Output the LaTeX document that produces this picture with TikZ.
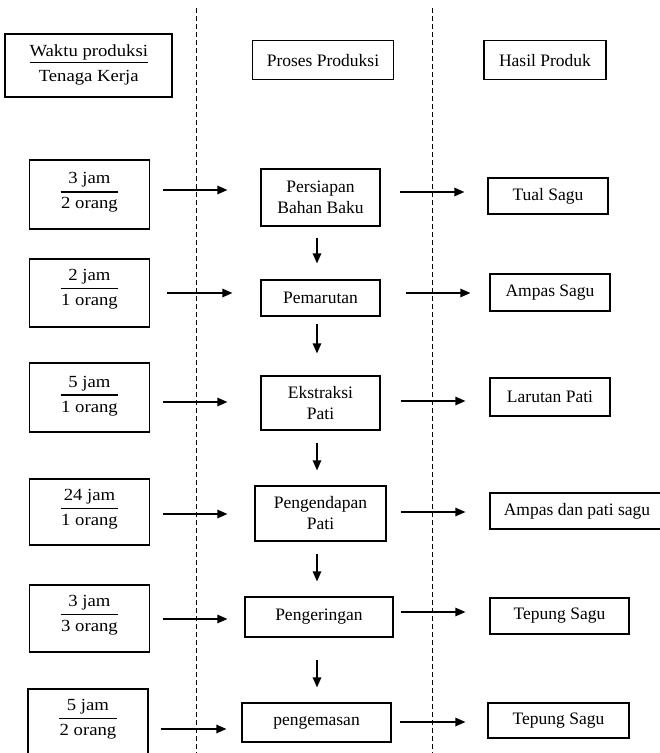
\documentclass[tikz,border=0pt]{standalone}
\usepackage{fontspec}
\setmainfont{Liberation Serif}
\newfontfamily\widefont[FakeStretch=1.1]{Liberation Serif}
\usetikzlibrary{arrows.meta}
\begin{document}
\begin{tikzpicture}[x=1pt,y=-1pt,
  box/.style={draw, line width=1.2pt, inner sep=0pt, align=center,
    font=\fontsize{17.5}{21}\selectfont},
  lbl/.style={inner sep=0pt, anchor=base, font=\widefont\fontsize{17}{20}\selectfont},
  arr/.style={line width=1.2pt, -{Triangle[length=10pt,width=8.5pt]}},
  sepline/.style={line width=0.9pt, dash pattern=on 5pt off 3pt},
  frac/.style={line width=1.1pt}]
\useasboundingbox (0,0) rectangle (660,753);
\fill[white] (0,0) rectangle (660,753);

% separators
\coordinate (s1a) at (196,8); \coordinate (s1b) at (196,753);
\coordinate (s2a) at (432,8); \coordinate (s2b) at (432,753);
\draw[sepline] (s1a) -- (s1b);
\draw[sepline] (s2a) -- (s2b);

% headers
\node[box, line width=1.4pt, minimum width=167pt, minimum height=63pt] (h1) at (88.5,65.5) {};
\node[lbl] (h1t) at (88.75,56.5) {Waktu produksi};
\node[lbl] (h1b) at (88.75,81) {Tenaga Kerja};
\draw[frac] (29.5,62.5) -- (148,62.5);
\node[box, minimum width=141pt, minimum height=39pt] (h2) at (323,60.3) {Proses Produksi};
\node[box, minimum width=122pt, minimum height=39pt] (h3) at (545,60.3) {Hasil Produk};

% left column
\node[box, minimum width=120pt, minimum height=69pt] (l1) at (89.5,194.5) {};
\node[lbl] (l1t) at (89.5,183.5) {3 jam};
\node[lbl] (l1b) at (89.5,208.5) {2 orang};
\draw[frac] (60.5,192) -- (118,192);

\node[box, minimum width=120pt, minimum height=68pt] (l2) at (89.5,293) {};
\node[lbl] (l2t) at (89.5,280.5) {2 jam};
\node[lbl] (l2b) at (89.5,305.5) {1 orang};
\draw[frac] (60.5,288.5) -- (118,288.5);

\node[box, minimum width=120pt, minimum height=69pt] (l3) at (89.5,397.5) {};
\node[lbl] (l3t) at (89.5,387) {5 jam};
\node[lbl] (l3b) at (89.5,412) {1 orang};
\draw[frac] (60.5,395) -- (118,395);

\node[box, minimum width=120pt, minimum height=66pt] (l4) at (89.5,512) {};
\node[lbl] (l4t) at (89.5,500.5) {24 jam};
\node[lbl] (l4b) at (89.5,525.5) {1 orang};
\draw[frac] (60.5,508.5) -- (118,508.5);

\node[box, minimum width=120pt, minimum height=67pt] (l5) at (89.5,618.5) {};
\node[lbl] (l5t) at (89.5,606.5) {3 jam};
\node[lbl] (l5b) at (89.5,631.5) {3 orang};
\draw[frac] (60.5,614.5) -- (118,614.5);

\node[box, minimum width=120pt, minimum height=68pt] (l6) at (88,723) {};
\node[lbl] (l6t) at (88,710.5) {5 jam};
\node[lbl] (l6b) at (88,735.5) {2 orang};
\draw[frac] (59,718.5) -- (116.5,718.5);

% middle column
\node[box, minimum width=119pt, minimum height=57pt] (m1) at (320.5,197.5) {Persiapan\\Bahan Baku};
\node[box, minimum width=119pt, minimum height=36pt] (m2) at (320.5,298) {Pemarutan};
\node[box, minimum width=119pt, minimum height=54pt] (m3) at (320.5,403) {Ekstraksi\\Pati};
\node[box, minimum width=131pt, minimum height=55pt] (m4) at (320.5,513.5) {Pengendapan\\Pati};
\node[box, minimum width=148pt, minimum height=40pt] (m5) at (319,617) {Pengeringan};
\node[box, minimum width=149pt, minimum height=39pt] (m6) at (316.5,722.5) {pengemasan};

% right column
\node[box, minimum width=120pt, minimum height=36pt] (r1) at (548,196) {Tual Sagu};
\node[box, minimum width=120pt, minimum height=37pt] (r2) at (550,292.5) {Ampas Sagu};
\node[box, minimum width=120pt, minimum height=38pt] (r3) at (550,397) {Larutan Pati};
\node[box, minimum width=174pt, minimum height=36pt] (r4) at (577,511) {Ampas dan pati sagu};
\node[box, minimum width=139pt, minimum height=36pt] (r5) at (559.5,616) {Tepung Sagu};
\node[box, minimum width=141pt, minimum height=35pt] (r6) at (558.5,720.5) {Tepung Sagu};

% left arrows
\draw[arr, shorten <=12.5pt, shorten >=33pt] (l1.east |- 0,190) -- (m1.west |- 0,190);
\draw[arr, shorten <=16.5pt, shorten >=28pt] (l2.east |- 0,293) -- (m2.west |- 0,293);
\draw[arr, shorten <=12.5pt, shorten >=33pt] (l3.east |- 0,402) -- (m3.west |- 0,402);
\draw[arr, shorten <=12.5pt, shorten >=27pt] (l4.east |- 0,514) -- (m4.west |- 0,514);
\draw[arr, shorten <=12.5pt, shorten >=17pt] (l5.east |- 0,619) -- (m5.west |- 0,619);
\draw[arr, shorten <=12pt, shorten >=15pt] (l6.east |- 0,729) -- (m6.west |- 0,729);

% right arrows
\draw[arr, shorten <=19pt, shorten >=23pt] (m1.east |- 0,192) -- (r1.west |- 0,192);
\draw[arr, shorten <=25pt, shorten >=19pt] (m2.east |- 0,293) -- (r2.west |- 0,293);
\draw[arr, shorten <=20pt, shorten >=24pt] (m3.east |- 0,401) -- (r3.west |- 0,401);
\draw[arr, shorten <=14pt, shorten >=24pt] (m4.east |- 0,512) -- (r4.west |- 0,512);
\draw[arr, shorten <=7pt, shorten >=24pt] (m5.east |- 0,612) -- (r5.west |- 0,612);
\draw[arr, shorten <=8pt, shorten >=22pt] (m6.east |- 0,722) -- (r6.west |- 0,722);

% vertical arrows
\draw[arr, shorten <=11pt, shorten >=16pt] (m1.south -| 317,0) -- (m2.north -| 317,0);
\draw[arr, shorten <=7pt, shorten >=22pt] (m2.south -| 317,0) -- (m3.north -| 317,0);
\draw[arr, shorten <=12pt, shorten >=15pt] (m3.south -| 317,0) -- (m4.north -| 317,0);
\draw[arr, shorten <=12pt, shorten >=15pt] (m4.south -| 317,0) -- (m5.north -| 317,0);
\draw[arr, shorten <=22pt, shorten >=15pt] (m5.south -| 317,0) -- (m6.north -| 317,0);
\end{tikzpicture}
\end{document}
